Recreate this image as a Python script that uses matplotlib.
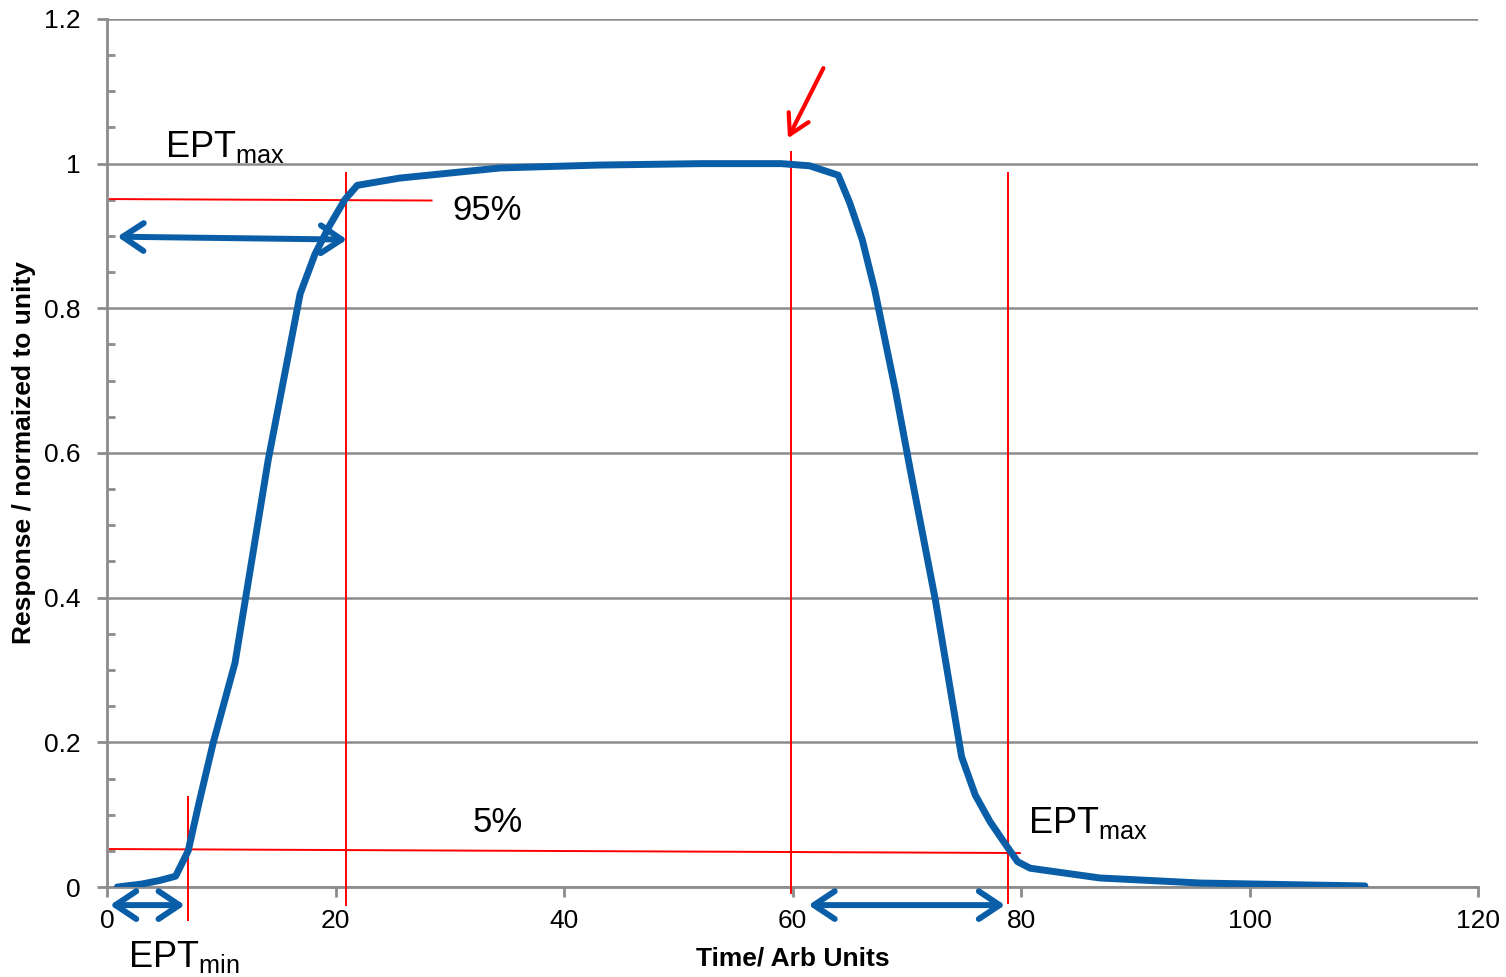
import matplotlib
matplotlib.use("Agg")
import matplotlib.pyplot as plt
from matplotlib.ticker import MultipleLocator

# ---------------------------------
# Data
# ---------------------------------

time = [0.9, 3.0, 4.6, 6.0, 7.1, 8.1, 9.3, 11.2, 14.1, 16.9, 18.2, 19.5, 20.8, 21.9,
        25.6, 34.4, 43.0, 52.0, 59.0, 61.5, 64.0, 65.0, 66.1, 67.2, 69.0,
        70.3, 72.5, 74.8, 76.0, 77.3, 78.6, 79.7, 80.8, 86.9, 95.7, 104.4, 110.1]
response = [0.0, 0.004, 0.009, 0.015, 0.05, 0.12, 0.2, 0.31, 0.59, 0.82, 0.875, 0.915,
            0.95, 0.97, 0.98, 0.994, 0.998, 1.0, 1.0, 0.997, 0.984, 0.946, 0.895, 0.825,
            0.687, 0.577, 0.397, 0.18, 0.127, 0.09, 0.06, 0.035, 0.026, 0.0125, 0.0055,
            0.003, 0.0015]

x_ticks = [0, 20, 40, 60, 80, 100, 120]
y_ticks = [0, 0.2, 0.4, 0.6, 0.8, 1.0, 1.2]
y_tick_labels = ["0", "0.2", "0.4", "0.6", "0.8", "1", "1.2"]

# marker lines (x, y_start, y_end)
v_lines = [(7.1, 0.124, -0.046), (20.9, 0.987, -0.025),
           (59.9, 1.016, -0.008), (78.9, 0.987, -0.022)]
# threshold lines (x0, y0, x1, y1)
h_lines = [(0.26, 0.951, 28.4, 0.949), (0.26, 0.0525, 79.9, 0.047)]
# double arrows (x0, y0, x1, y1)
span_arrows = [(0.9, 0.899, 21.0, 0.895), (0.26, -0.025, 6.8, -0.025),
               (61.4, -0.025, 78.6, -0.025)]

# ---------------------------------
# Figure
# ---------------------------------

plt.rcParams["font.family"] = ["Liberation Sans", "DejaVu Sans"]
plt.rcParams["mathtext.fontset"] = "custom"
plt.rcParams["mathtext.rm"] = "Liberation Sans"

fig = plt.figure(figsize=(15.06, 9.77), dpi=100)
ax = fig.add_axes([0.0711, 0.0921, 0.9103, 0.8885])

blue = "#0a5ea8"
grey = "#8c8c8c"

ax.plot(time, response, color=blue, lw=5, solid_capstyle="round",
        solid_joinstyle="round", zorder=4)

for x, y0, y1 in v_lines:
    ax.plot([x, x], [y0, y1], color="red", lw=1.4, clip_on=False, zorder=3)
for x0, y0, x1, y1 in h_lines:
    ax.plot([x0, x1], [y0, y1], color="red", lw=1.4, clip_on=False, zorder=3)

for x0, y0, x1, y1 in span_arrows:
    ax.annotate("", xy=(x1, y1), xytext=(x0, y0),
                arrowprops=dict(arrowstyle="<->,head_length=1.5,head_width=1.0",
                                color=blue, lw=4.3, shrinkA=0, shrinkB=0,
                                capstyle="round", joinstyle="round"),
                annotation_clip=False, zorder=5)

ax.annotate("", xy=(59.6, 1.035), xytext=(62.7, 1.132),
            arrowprops=dict(arrowstyle="->,head_length=1.4,head_width=0.8",
                            color="red", lw=3, shrinkA=0, shrinkB=0), zorder=5)

ax.text(5.1, 0.998, r"EPT$_{\mathrm{max}}$", fontsize=26, va="bottom", ha="left")
ax.text(33.3, 0.935, "95%", fontsize=25, ha="center", va="center")
ax.text(34.2, 0.089, "5%", fontsize=25, ha="center", va="center")
ax.text(80.6, 0.088, r"EPT$_{\mathrm{max}}$", fontsize=26, va="center", ha="left")
ax.text(1.8, -0.097, r"EPT$_{\mathrm{min}}$", fontsize=26, va="center", ha="left")

ax.set_xlim(0, 120)
ax.set_ylim(0, 1.2)
ax.set_xticks(x_ticks)
ax.set_yticks(y_ticks)
ax.set_yticklabels(y_tick_labels)
ax.yaxis.set_minor_locator(MultipleLocator(0.05))

ax.grid(axis="y", color=grey, lw=1.8)
ax.set_axisbelow(True)
for side in ["top", "right"]:
    ax.spines[side].set_visible(False)
for side in ["left", "bottom"]:
    ax.spines[side].set_color(grey)
    ax.spines[side].set_linewidth(2)

ax.tick_params(axis="both", which="major", labelsize=19, color=grey, width=2,
               length=7, direction="out")
ax.tick_params(axis="y", which="minor", color=grey, width=2, length=6,
               direction="in")
ax.tick_params(axis="x", pad=9)
ax.tick_params(axis="y", pad=12)

ax.set_xlabel("Time/ Arb Units", fontsize=19, fontweight="bold")
ax.set_ylabel("Response / normaized to unity", fontsize=19, fontweight="bold")
ax.xaxis.set_label_coords(0.5, -0.069)
ax.yaxis.set_label_coords(-0.052, 0.5)

fig.savefig("out.png", dpi=100)
